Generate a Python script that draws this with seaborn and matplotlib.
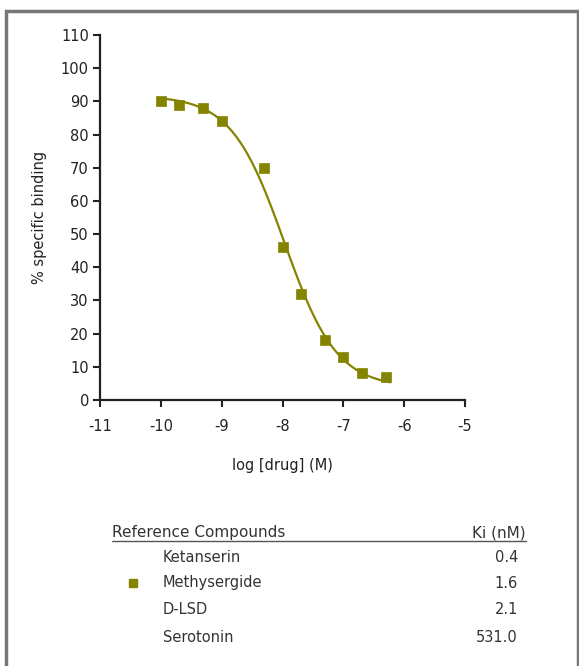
import numpy as np
import pandas as pd
import matplotlib
matplotlib.use("Agg")
import matplotlib.pyplot as plt
from matplotlib.lines import Line2D
from matplotlib.patches import Rectangle
import seaborn as sns

# ---- data ----
log_drug = [-10.0, -9.7, -9.3, -9.0, -8.3, -8.0, -7.7, -7.3, -7.0, -6.7, -6.3]
binding = [90, 89, 88, 84, 70, 46, 32, 18, 13, 8, 7]
x_ticks = [-11, -10, -9, -8, -7, -6, -5]
y_ticks = [0, 10, 20, 30, 40, 50, 60, 70, 80, 90, 100, 110]
compounds = ["Ketanserin", "Methysergide", "D-LSD", "Serotonin"]
ki_values = ["0.4", "1.6", "2.1", "531.0"]
plotted = [False, True, False, False]

OLIVE = "#848400"
W, H = 579, 666

sns.set_style("ticks")
plt.rcParams["font.family"] = ["DejaVu Sans"]

df = pd.DataFrame({"log_drug": log_drug, "binding": binding})

# one-site competition fit (Hill slope fixed at 1): least squares over logIC50,
# top/bottom solved linearly
xd = np.array(log_drug)
yd = np.array(binding, dtype=float)
best = None
for lic in np.arange(-9.5, -6.5, 0.002):
    f = 1.0 / (1.0 + 10 ** (xd - lic))
    A = np.vstack([1 - f, f]).T
    coef, *_ = np.linalg.lstsq(A, yd, rcond=None)
    r = np.sum((A @ coef - yd) ** 2)
    if best is None or r < best[0]:
        best = (r, lic, coef)
_, lic, (bottom, top) = best
xc = np.linspace(xd.min() - 0.05, xd.max() + 0.07, 200)
yc = bottom + (top - bottom) / (1.0 + 10 ** (xc - lic))
curve = pd.DataFrame({"log_drug": xc, "binding": yc})

fig = plt.figure(figsize=(W / 100, H / 100), dpi=100)
fig.patch.set_facecolor("white")


def fx(px):
    return px / W


def fy(py):
    return 1 - py / H


ax = fig.add_axes([fx(100), fy(400), fx(465) - fx(100), fy(35) - fy(400)])
sns.lineplot(data=curve, x="log_drug", y="binding", ax=ax, color=OLIVE, lw=1.6)
sns.scatterplot(data=df, x="log_drug", y="binding", ax=ax, marker="s", s=50,
                color=OLIVE, edgecolor=OLIVE, linewidth=0.5, zorder=3)

ax.set_xlim(-11, -5)
ax.set_ylim(0, 110)
ax.set_xticks(x_ticks)
ax.set_xticklabels([str(t) for t in x_ticks])
ax.set_yticks(y_ticks)
ax.set_yticklabels([str(t) for t in y_ticks])
for s in ["top", "right"]:
    ax.spines[s].set_visible(False)
for s in ["left", "bottom"]:
    ax.spines[s].set_linewidth(1.6)
    ax.spines[s].set_color("#222222")
ax.tick_params(axis="both", length=5, width=1.5, color="#222222",
               labelsize=10.5, labelcolor="#222222", pad=3)
ax.tick_params(axis="x", pad=9)
ax.set_facecolor("white")
ax.set_xlabel("log [drug] (M)", fontsize=10.5, color="#222222", labelpad=17)
ax.set_ylabel("% specific binding", fontsize=10.5, color="#222222", labelpad=10)
ax.patch.set_alpha(0)

# frame around figure
fig.patches.append(Rectangle((fx(6), fy(680)), fx(578) - fx(6), fy(11) - fy(680),
                             transform=fig.transFigure, fill=False,
                             edgecolor="#777777", lw=2.5))

# reference compound table
tc = "#333333"
fig.text(fx(112), fy(533), "Reference Compounds", fontsize=11, color=tc,
         ha="left", va="center")
fig.text(fx(526), fy(533), "Ki (nM)", fontsize=11, color=tc, ha="right", va="center")
fig.lines.append(Line2D([fx(112), fx(526)], [fy(541), fy(541)],
                        transform=fig.transFigure, color="#555555", lw=1.0))
row_y = [557, 583, 610, 637]
for name, ki, yy, mk in zip(compounds, ki_values, row_y, plotted):
    fig.text(fx(163), fy(yy), name, fontsize=10.5, color=tc, ha="left", va="center")
    fig.text(fx(518), fy(yy), ki, fontsize=10.5, color=tc, ha="right", va="center")
    if mk:
        fig.lines.append(Line2D([fx(133)], [fy(yy)], transform=fig.transFigure,
                                marker="s", markersize=6, color=OLIVE, lw=0))

fig.savefig("out.png", dpi=100)
